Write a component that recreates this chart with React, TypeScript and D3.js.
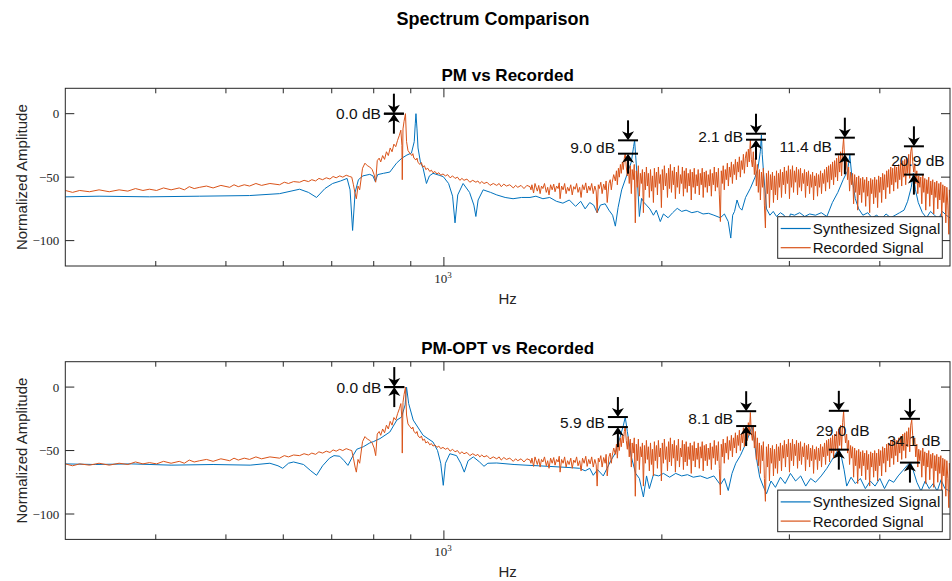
import * as d3 from "d3";

type Pt = [number, number];

// recorded spectrum (Hz, dB) — same signal in both panels
const recorded: Pt[] = [
  [300, -60.5], [307, -62], [314, -60.5], [324, -61.5], [334, -60], [345, -61.5], [356, -60], [366, -61],
  [375, -59], [384, -60.5], [392, -59.5], [401, -60.5], [410, -58.5], [420, -60], [431, -58.5], [438, -60],
  [445, -57.5], [452, -59], [460, -58], [470, -57], [480, -58.5], [492, -56.5], [506, -58], [513, -56],
  [520, -57.5], [530, -56], [539, -57], [550, -55], [560, -56.5], [575, -55], [593, -56], [602, -54],
  [610, -55], [620, -53.5], [632, -54], [641, -52.5], [650, -53.5], [657, -52], [665, -53], [672, -51],
  [680, -52], [688, -50.5], [696, -51.5], [703, -49.5], [710, -50.5], [718, -49], [725, -50], [733, -48.5],
  [741, -49.5], [746, -50], [750, -56], [754, -63], [757, -67], [761, -57], [765, -60], [772, -43],
  [778, -39], [784, -41], [790, -42], [796, -44], [801, -48], [805, -54], [809, -37], [814, -35],
  [818, -38], [823, -33], [828, -36], [833, -30], [838, -33], [843, -27], [848, -30], [853, -24],
  [858, -26], [863, -21], [868, -17], [872, -13], [875, -25], [876, -52], [878, -12], [881, -6],
  [885, 0], [888, -22], [892, -29], [897, -31], [903, -33], [906, -31.5], [909, -35], [915, -36.5],
  [918, -35], [921, -38.5], [927, -40], [931, -38.5], [935, -42], [940, -41], [944, -44], [950, -43],
  [956, -45.5], [961, -44.5], [966, -46.5], [972, -45.5], [978, -47.5], [984, -46.5], [990, -48.5], [997, -47.5],
  [1005, -49], [1012, -48], [1020, -50.5], [1028, -49], [1036, -51], [1044, -50], [1052, -52.5], [1059, -51],
  [1066, -52.5], [1076, -51.5], [1086, -54], [1096, -52.5], [1107, -54], [1114, -53], [1121, -55], [1128, -53.5],
  [1136, -55], [1147, -54], [1158, -56.5], [1170, -55], [1183, -56.5], [1192, -55], [1200, -57.5], [1210, -55.5],
  [1220, -57], [1233, -56], [1247, -58.5], [1256, -56.5], [1265, -58], [1278, -56.5], [1290, -59], [1302, -56.5],
  [1315, -57.5], [1319, -60], [1323, -56], [1330, -62.5], [1336, -55], [1341, -58], [1346, -61], [1352, -56.5],
  [1358, -63], [1364, -57], [1370, -59], [1377, -55], [1385, -62], [1391, -58], [1397, -64], [1404, -56],
  [1411, -60], [1418, -55.5], [1424, -61.5], [1431, -57], [1438, -59], [1443, -54.5], [1447, -67], [1454, -57],
  [1461, -60], [1468, -55], [1475, -63], [1482, -58], [1489, -61], [1497, -56], [1504, -64], [1511, -57.5],
  [1518, -59.5], [1525, -55], [1532, -62], [1540, -58], [1547, -66], [1554, -56], [1562, -60], [1570, -54.5],
  [1577, -62.5], [1585, -57], [1592, -60.5], [1600, -55], [1608, -63], [1616, -57], [1623, -61], [1628, -78],
  [1634, -56], [1639, -59], [1647, -54], [1654, -63], [1662, -55.5], [1670, -60], [1675, -53], [1681, -70],
  [1690, -55], [1697, -52], [1703, -60], [1708, -54], [1716, -48], [1725, -53], [1731, -45], [1736, -56],
  [1742, -43], [1747, -50], [1753, -40], [1758, -47], [1764, -38], [1769, -44], [1775, -35], [1780, -31],
  [1786, -42], [1792, -49], [1797, -39], [1803, -55], [1809, -41], [1815, -63], [1820, -44], [1826, -52],
  [1832, -40], [1838, -86], [1844, -45], [1850, -58], [1856, -41], [1862, -65], [1868, -47], [1874, -55],
  [1880, -44], [1886, -78], [1892, -46], [1898, -60], [1904, -42], [1910, -57], [1916, -47], [1922, -66],
  [1929, -44], [1935, -61], [1941, -49], [1947, -70], [1953, -43], [1959, -58], [1966, -46], [1972, -64],
  [1978, -42], [1984, -55], [1991, -48], [1997, -74], [2003, -44], [2010, -60], [2016, -41], [2023, -57],
  [2030, -47], [2036, -66], [2043, -43], [2049, -59], [2055, -40], [2062, -62], [2068, -45], [2075, -56],
  [2081, -42], [2088, -67], [2095, -46], [2101, -58], [2108, -41], [2115, -63], [2122, -48], [2129, -55],
  [2135, -42], [2142, -65], [2148, -45], [2154, -59], [2161, -43], [2168, -62], [2175, -47], [2182, -57],
  [2189, -44], [2196, -68], [2203, -46], [2210, -58], [2217, -43], [2224, -63], [2231, -48], [2238, -57],
  [2245, -44], [2253, -64], [2260, -47], [2267, -56], [2274, -43], [2281, -66], [2289, -46], [2296, -58],
  [2303, -45], [2311, -62], [2318, -48], [2326, -57], [2333, -44], [2341, -65], [2348, -47], [2356, -56],
  [2363, -42], [2371, -61], [2378, -46], [2386, -58], [2394, -43], [2401, -64], [2409, -85], [2416, -45],
  [2424, -55], [2431, -41], [2439, -60], [2447, -44], [2455, -52], [2463, -39], [2471, -57], [2479, -42],
  [2487, -50], [2495, -38], [2503, -55], [2511, -40], [2519, -48], [2527, -36], [2535, -52], [2543, -38],
  [2551, -46], [2559, -34], [2567, -50], [2575, -37], [2584, -44], [2592, -32], [2600, -47], [2608, -35],
  [2617, -30], [2625, -42], [2633, -28], [2641, -38], [2650, -20], [2658, -36], [2667, -42], [2675, -30],
  [2684, -48], [2693, -35], [2701, -57], [2710, -40], [2718, -62], [2727, -44], [2736, -68], [2745, -46],
  [2754, -58], [2762, -43], [2771, -72], [2780, -90], [2789, -47], [2798, -63], [2807, -45], [2816, -74],
  [2825, -48], [2834, -60], [2843, -46], [2852, -70], [2861, -49], [2870, -64], [2880, -45], [2889, -68],
  [2898, -47], [2907, -58], [2916, -44], [2926, -66], [2935, -46], [2944, -56], [2953, -42], [2963, -63],
  [2972, -45], [2982, -55], [2991, -41], [3001, -67], [3010, -44], [3020, -58], [3030, -41], [3040, -62],
  [3049, -45], [3059, -54], [3069, -42], [3079, -64], [3089, -44], [3098, -58], [3108, -43], [3118, -61],
  [3128, -47], [3138, -55], [3148, -44], [3158, -66], [3168, -46], [3178, -57], [3188, -45], [3199, -63],
  [3209, -48], [3219, -58], [3230, -46], [3240, -68], [3250, -49], [3260, -57], [3270, -47], [3281, -65],
  [3291, -48], [3302, -58], [3313, -45], [3323, -63], [3334, -47], [3345, -55], [3355, -44], [3366, -61],
  [3377, -42], [3388, -54], [3399, -41], [3409, -59], [3420, -40], [3431, -52], [3442, -38], [3453, -56],
  [3464, -37], [3475, -50], [3486, -35], [3497, -53], [3508, -33], [3520, -46], [3531, -30], [3542, -49],
  [3554, -28], [3565, -19], [3576, -35], [3587, -44], [3599, -37], [3610, -52], [3622, -42], [3633, -61],
  [3645, -46], [3657, -56], [3668, -47], [3680, -71], [3692, -48], [3704, -62], [3716, -50], [3728, -76],
  [3740, -49], [3751, -64], [3763, -51], [3775, -70], [3788, -50], [3800, -62], [3812, -52], [3824, -73],
  [3836, -50], [3848, -65], [3860, -53], [3873, -78], [3885, -51], [3897, -63], [3910, -52], [3922, -71],
  [3935, -50], [3947, -66], [3960, -52], [3972, -74], [3985, -49], [3998, -62], [4011, -50], [4023, -70],
  [4036, -47], [4049, -60], [4062, -48], [4075, -67], [4088, -45], [4101, -58], [4114, -44], [4128, -63],
  [4141, -42], [4154, -56], [4167, -43], [4180, -61], [4194, -41], [4207, -54], [4220, -42], [4234, -59],
  [4247, -40], [4261, -52], [4275, -39], [4288, -57], [4302, -37], [4316, -50], [4330, -36], [4343, -56],
  [4357, -35], [4371, -47], [4385, -32], [4399, -51], [4413, -30], [4427, -26], [4441, -38], [4455, -46],
  [4470, -40], [4484, -55], [4499, -45], [4513, -63], [4527, -49], [4542, -58], [4556, -50], [4571, -71],
  [4585, -48], [4600, -62], [4615, -51], [4629, -76], [4644, -52], [4659, -63], [4673, -50], [4688, -73],
  [4703, -53], [4718, -64], [4733, -52], [4748, -79], [4763, -54], [4779, -66], [4794, -53], [4809, -75],
  [4825, -55], [4840, -68], [4856, -54], [4871, -81], [4887, -56], [4902, -70], [4918, -57], [4934, -86],
  [4950, -58], [4966, -72], [4981, -95], [4990, -60], [5000, -66],
];

// PM synthesized spectrum
const synthPM: Pt[] = [
  [300, -65.5], [334, -65], [392, -65.5], [460, -65], [539, -64.5], [593, -63], [615, -61], [632, -59.5],
  [650, -62], [667, -66], [685, -59], [702, -55], [720, -53], [735, -51], [742, -60], [748, -92],
  [754, -62], [762, -52], [773, -49], [790, -47.8], [798, -49], [804, -53.5], [810, -48], [825, -47],
  [842, -46], [860, -39], [875, -35], [889, -32.6], [902, -31], [910, -22], [913, -8], [915, 0],
  [918, -12], [921, -27], [928, -38], [936, -43], [946, -55], [955, -49], [966, -47], [985, -48.5],
  [998, -49.6], [1015, -55], [1028, -65], [1036, -86], [1045, -64], [1063, -55], [1085, -62], [1100, -72],
  [1107, -81], [1115, -68], [1133, -60], [1160, -62], [1183, -64], [1215, -66], [1246, -67], [1280, -66],
  [1315, -66], [1340, -65], [1370, -67], [1400, -66], [1430, -69], [1460, -70.5], [1490, -68], [1520, -73],
  [1545, -69], [1567, -75], [1590, -70], [1610, -72], [1628, -78], [1645, -72], [1670, -71], [1690, -76],
  [1710, -80], [1725, -88.6], [1740, -74], [1760, -60], [1790, -48], [1815, -38], [1828, -26], [1834, -21],
  [1840, -33], [1850, -52], [1862, -81], [1875, -66.7], [1890, -70], [1904, -72], [1925, -75], [1947, -80],
  [1965, -76], [1990, -85], [2010, -79], [2040, -82], [2070, -78], [2100, -74.6], [2130, -77], [2160, -76],
  [2200, -78], [2240, -77], [2280, -79], [2320, -78.5], [2360, -80], [2409, -82], [2440, -79], [2470, -85],
  [2490, -98], [2505, -80], [2520, -77], [2540, -68], [2560, -74], [2580, -76], [2610, -66], [2650, -58.8],
  [2690, -50], [2715, -43], [2735, -30], [2745, -16.8], [2752, -32], [2765, -48], [2790, -75], [2820, -80],
  [2850, -77], [2880, -81], [2916, -78], [2950, -80], [2990, -85], [3010, -79], [3050, -80], [3100, -78],
  [3150, -81], [3200, -79], [3260, -80], [3320, -78], [3380, -81], [3440, -70], [3500, -62], [3560, -52],
  [3610, -45], [3636, -32.6], [3660, -50], [3700, -67], [3740, -75], [3790, -80], [3850, -78], [3900, -82],
  [3960, -80], [4020, -83], [4080, -79], [4140, -82], [4200, -80], [4260, -78], [4320, -76], [4370, -69],
  [4420, -58], [4450, -47], [4480, -60], [4520, -70], [4580, -78], [4640, -82], [4700, -77], [4760, -80],
  [4820, -83], [4880, -77], [4940, -80], [5000, -82],
];

// PM-OPT synthesized spectrum
const synthOPT: Pt[] = [
  [300, -60.5], [330, -61], [370, -60.5], [420, -61.5], [480, -61], [540, -61.5], [575, -60], [590, -62],
  [599, -64], [610, -60], [620, -59], [640, -61], [655, -66], [667, -69.5], [680, -62], [695, -56],
  [705, -54], [718, -54.5], [728, -58], [737, -61.7], [749, -54], [758, -49], [774, -47], [790, -44],
  [799, -43], [816, -40.6], [842, -35.4], [861, -26], [874, -23.6], [884, -14], [888, 0], [894, -13],
  [907, -26], [936, -38], [966, -43.3], [980, -50], [990, -60], [998, -77.4], [1005, -60], [1019, -52.5],
  [1041, -54], [1055, -60], [1067, -67], [1080, -58], [1098, -55], [1120, -59], [1136, -62.4], [1150, -60],
  [1183, -59.8], [1250, -61], [1315, -61.7], [1350, -62], [1400, -62.5], [1450, -63], [1500, -63.5], [1540, -64],
  [1567, -66], [1590, -64], [1608, -69.5], [1630, -65], [1660, -70], [1680, -64], [1700, -58], [1725, -52],
  [1750, -40], [1770, -30], [1780, -23.6], [1792, -35], [1815, -55], [1840, -68], [1862, -72], [1886, -86.6],
  [1905, -70], [1922, -80], [1947, -69], [1980, -70], [2010, -68], [2050, -71], [2090, -68], [2130, -70],
  [2170, -69], [2210, -71], [2260, -70], [2310, -72], [2360, -70], [2409, -77], [2440, -72], [2470, -81.5],
  [2500, -68], [2530, -60], [2567, -54], [2600, -47], [2630, -40], [2655, -33], [2665, -31], [2680, -40],
  [2700, -55], [2730, -71], [2760, -78], [2790, -84], [2830, -74], [2870, -79], [2916, -71], [2960, -76],
  [3010, -68], [3060, -74], [3110, -70], [3160, -78], [3210, -72], [3260, -75], [3320, -70], [3380, -64],
  [3430, -58], [3480, -52], [3511, -48.5], [3540, -55], [3570, -65], [3600, -78], [3650, -71], [3700, -76],
  [3760, -72], [3820, -80], [3880, -74], [3940, -78], [4000, -72], [4060, -80], [4120, -73], [4180, -75],
  [4240, -70], [4300, -66], [4360, -62], [4410, -59], [4450, -66], [4500, -75], [4560, -82], [4620, -74],
  [4680, -80], [4740, -76], [4800, -82], [4860, -73], [4920, -80], [5000, -82],
];

// peak difference markers
const pmPeakFreq = [853, 1796, 2698, 3579, 4458];
const pmPeakHigh = [0, -21, -15.8, -18.9, -25.7];
const pmPeakLow = [0, -31.5, -20.5, -32, -48];
const pmPeakLabel = ["0.0 dB", "9.0 dB", "2.1 dB", "11.4 dB", "20.9 dB"];

const optPeakFreq = [854, 1739, 2615, 3511, 4402];
const optPeakHigh = [0, -23.6, -19, -18.7, -25];
const optPeakLow = [0, -31.5, -30.7, -49.3, -59.5];
const optPeakLabel = ["0.0 dB", "5.9 dB", "8.1 dB", "29.0 dB", "34.1 dB"];

const yTicks = [-100, -50, 0];
const xTicks = [400, 500, 600, 700, 800, 900, 1000, 2000, 3000, 4000];
const legendNames = ["Synthesized Signal", "Recorded Signal"];

const BLUE = "#0072BD";
const ORANGE = "#D95319";
const AXIS = "#262626";
const SANS = "'Liberation Sans', Arial, sans-serif";
const SERIF = "'Liberation Serif', 'DejaVu Serif', serif";

function Panel({ id, top, title, synth, freq, high, low, labels }: any) {
  const left = 65.3;
  const right = 950;
  const bottom = top + 177.7;
  const x = d3.scaleLog().domain([300, 5000]).range([left, right]);
  const y = d3.scaleLinear().domain([-120, 20]).range([bottom, top]);
  const line = d3.line<Pt>().x((d) => x(d[0])).y((d) => y(d[1]));
  const legX = 777.7;
  const legY = top + 128.4;

  return (
    <g>
      <defs>
        <clipPath id={id}>
          <rect x={left} y={top} width={right - left} height={bottom - top} />
        </clipPath>
      </defs>
      <text x={(left + right) / 2} y={top - 7.5} textAnchor="middle" fontFamily={SANS} fontWeight="bold" fontSize={17}>
        {title}
      </text>
      <rect x={left} y={top} width={right - left} height={bottom - top} fill="white" />
      <g clipPath={`url(#${id})`}>
        <path d={line(synth) || ""} fill="none" stroke={BLUE} strokeWidth={1} />
        <path d={line(recorded) || ""} fill="none" stroke={ORANGE} strokeWidth={1} />
      </g>
      {/* axes box and ticks */}
      <rect x={left} y={top} width={right - left} height={bottom - top} fill="none" stroke={AXIS} strokeWidth={1} />
      {xTicks.map((t) => {
        const len = t === 1000 ? 9 : 5;
        return (
          <g key={t} stroke={AXIS}>
            <line x1={x(t)} x2={x(t)} y1={bottom} y2={bottom - len} />
            <line x1={x(t)} x2={x(t)} y1={top} y2={top + len} />
          </g>
        );
      })}
      <text x={x(1000) - 1} y={bottom + 17} textAnchor="middle" fontFamily={SERIF} fontSize={13} fill={AXIS}>
        10<tspan dy={-5} fontSize={9}>3</tspan>
      </text>
      {yTicks.map((t) => (
        <g key={t}>
          <line x1={left} x2={left + 9} y1={y(t)} y2={y(t)} stroke={AXIS} />
          <line x1={right - 9} x2={right} y1={y(t)} y2={y(t)} stroke={AXIS} />
          <text x={left - 6} y={y(t)} dy="0.35em" textAnchor="end" fontFamily={SERIF} fontSize={13} fill={AXIS}>
            {t < 0 ? `\u2212${-t}` : t}
          </text>
        </g>
      ))}
      <text x={(left + right) / 2} y={bottom + 37.5} textAnchor="middle" fontFamily={SANS} fontSize={15} fill={AXIS}>
        Hz
      </text>
      <text
        transform={`translate(22,${(top + bottom) / 2}) rotate(-90)`}
        dy="0.35em"
        textAnchor="middle"
        fontFamily={SANS}
        fontSize={15}
        fill={AXIS}
      >
        Normalized Amplitude
      </text>
      {/* peak difference markers */}
      {freq.map((f: number, i: number) => {
        const xa = x(f);
        const yh = y(high[i]);
        const yl = y(low[i]);
        const mid = (yh + yl) / 2;
        const centered = yl - yh > 20;
        return (
          <g key={i}>
            <line x1={xa - 10} x2={xa + 10} y1={yh} y2={yh} stroke="black" strokeWidth={2} />
            <line x1={xa - 10} x2={xa + 10} y1={yl} y2={yl} stroke="black" strokeWidth={2} />
            <line x1={xa} x2={xa} y1={yh - 20} y2={yh - 5} stroke="black" strokeWidth={2} />
            <path d={`M${xa},${yh} L${xa - 6},${yh - 9} L${xa},${yh - 6.5} L${xa + 6},${yh - 9} Z`} fill="black" />
            <line x1={xa} x2={xa} y1={yl + 20} y2={yl + 5} stroke="black" strokeWidth={2} />
            <path d={`M${xa},${yl} L${xa - 6},${yl + 9} L${xa},${yl + 6.5} L${xa + 6},${yl + 9} Z`} fill="black" />
            <text
              x={centered ? xa + 4 : xa - 13}
              y={mid}
              dy="0.36em"
              textAnchor={centered ? "middle" : "end"}
              fontFamily={SANS}
              fontSize={15.5}
              fill="#111"
            >
              {labels[i]}
            </text>
          </g>
        );
      })}
      {/* legend */}
      <rect x={legX} y={legY} width={164.6} height={41.6} fill="white" stroke={AXIS} strokeWidth={1} />
      {legendNames.map((name, i) => {
        const ry = legY + 11.8 + i * 19.2;
        return (
          <g key={name}>
            <line x1={legX + 3} x2={legX + 33} y1={ry} y2={ry} stroke={i === 0 ? BLUE : ORANGE} strokeWidth={1.2} />
            <text x={legX + 35} y={ry} dy="0.36em" fontFamily={SANS} fontSize={15} fill="#111">
              {name}
            </text>
          </g>
        );
      })}
    </g>
  );
}

export default function App() {
  return (
    <svg
      width={952}
      height={581}
      viewBox="0 0 952 581"
      style={{ position: "absolute", left: 0, top: 0, background: "white" }}
    >
      <rect width={952} height={581} fill="white" />
      <text x={493} y={24.5} textAnchor="middle" fontFamily={SANS} fontWeight="bold" fontSize={18}>
        Spectrum Comparison
      </text>
      <Panel
        id="clipPM"
        top={88.3}
        title="PM vs Recorded"
        synth={synthPM}
        freq={pmPeakFreq}
        high={pmPeakHigh}
        low={pmPeakLow}
        labels={pmPeakLabel}
      />
      <Panel
        id="clipOPT"
        top={361.7}
        title="PM-OPT vs Recorded"
        synth={synthOPT}
        freq={optPeakFreq}
        high={optPeakHigh}
        low={optPeakLow}
        labels={optPeakLabel}
      />
    </svg>
  );
}
